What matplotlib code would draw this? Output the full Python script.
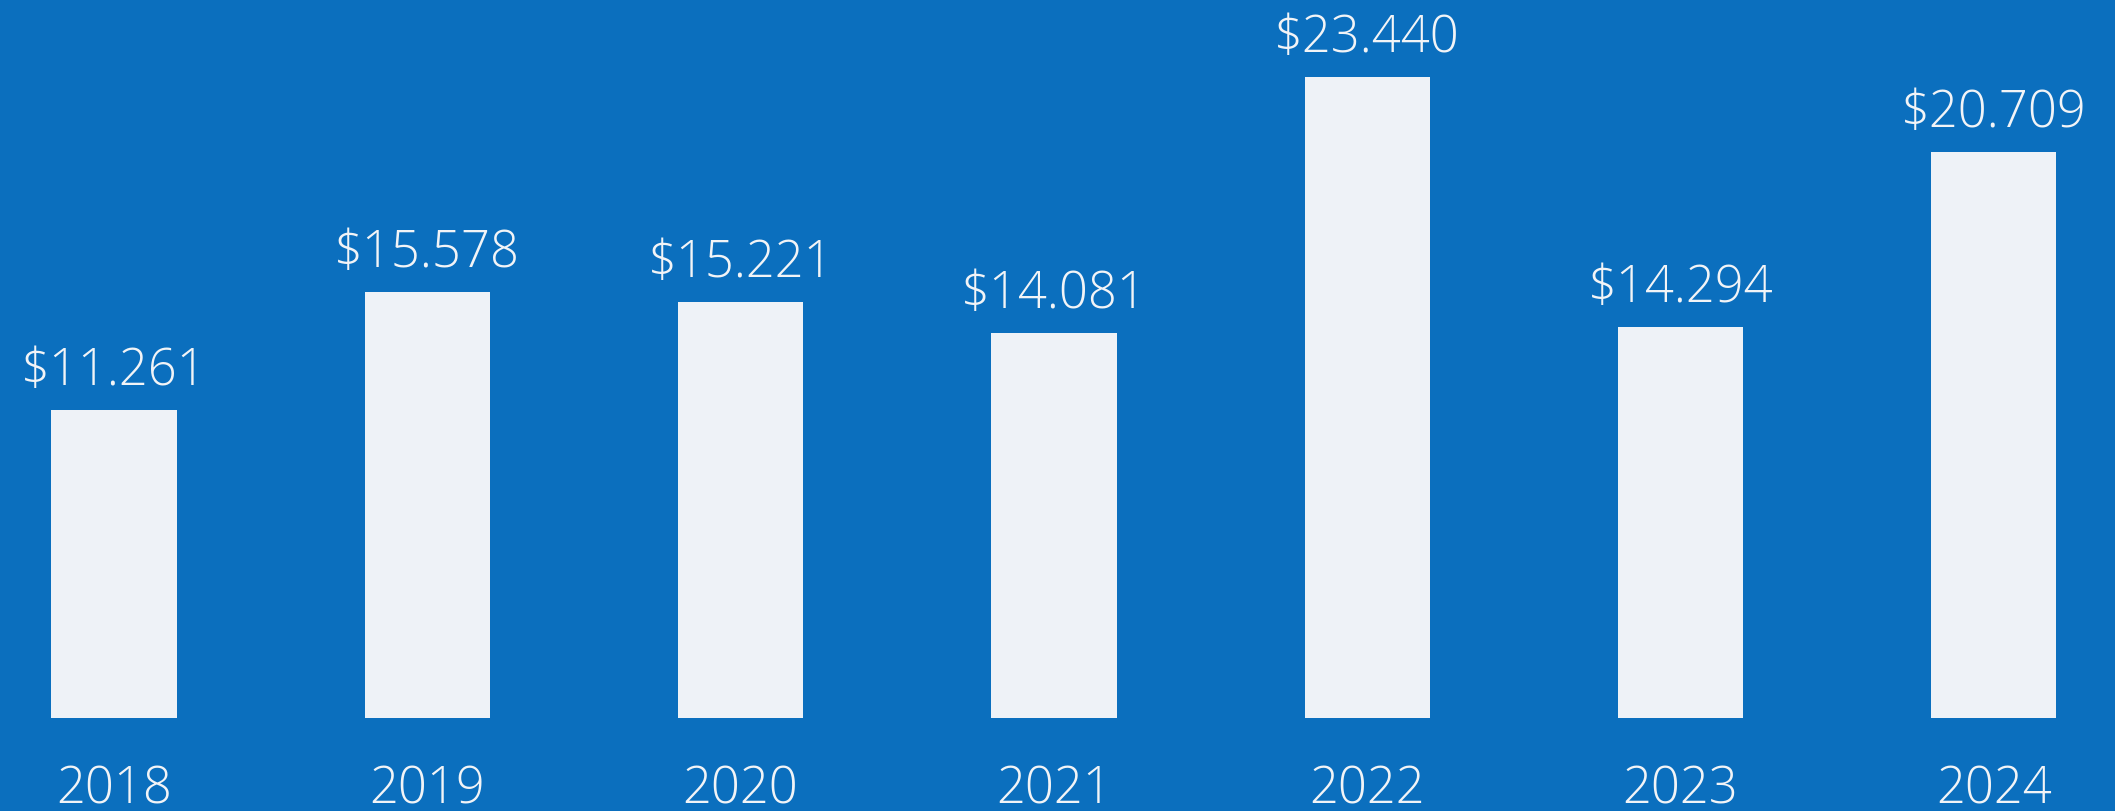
import matplotlib
matplotlib.use("Agg")
import matplotlib.pyplot as plt

# Datos
anios = ['2018', '2019', '2020', '2021', '2022', '2023', '2024']
valores = [11.261, 15.578, 15.221, 14.081, 23.440, 14.294, 20.709]
etiquetas = ['$11.261', '$15.578', '$15.221', '$14.081', '$23.440', '$14.294', '$20.709']

fondo = '#0b6fbe'
color_barra = '#eef2f7'
color_texto = '#f2f4f7'
fuente = ['Open Sans', 'DejaVu Sans']

fig = plt.figure(figsize=(21.15, 8.11), dpi=100)
fig.patch.set_facecolor(fondo)
ax = fig.add_axes([0, 0, 1, 1])
ax.set_facecolor(fondo)

x = list(range(len(anios)))
ax.bar(x, valores, width=0.40, color=color_barra, edgecolor='none')

# Etiquetas de valor encima de cada barra
for xi, v, t in zip(x, valores, etiquetas):
    ax.text(xi, v + 0.91, t, ha='center', va='baseline', color=color_texto,
            fontsize=36.5, family=fuente, fontweight='light')

# Años debajo
for xi, a in zip(x, anios):
    ax.text(xi, -3.11, a, ha='center', va='baseline', color=color_texto,
            fontsize=36.5, family=fuente, fontweight='light')

ax.set_xlim(-0.364, 6.387)
ax.set_ylim(-3.40, 26.25)
ax.axis('off')

fig.savefig('out.png', dpi=100, facecolor=fondo)
